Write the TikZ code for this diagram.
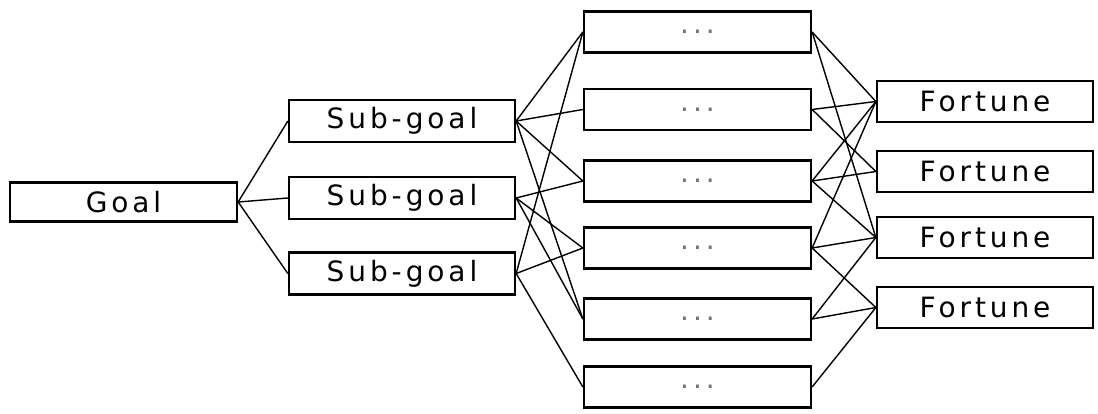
\documentclass[tikz,border=0pt]{standalone}
\usepackage{fontspec}
\setmainfont{DejaVu Sans}[LetterSpace=14]
\begin{document}
\begin{tikzpicture}[x=0.025cm,y=-0.025cm,
        box/.style={draw,line width=1.6pt,inner sep=0pt,minimum height=1.025cm,font=\fontsize{19.9}{24}\selectfont},
        goalbox/.style={box,minimum width=5.675cm,minimum height=0.975cm},
        subbox/.style={box,minimum width=5.65cm,minimum height=1.05cm},
        dotbox/.style={box,minimum width=5.675cm,text=black!55},
        fortbox/.style={box,minimum width=5.4cm},
        link/.style={line width=1pt}]
        \useasboundingbox (0,0) rectangle (1098,414);
        % Cajas
        \node[goalbox] (goal) at (123.5,202) {Goal};
        \node[subbox] (sg1) at (402,121) {Sub-goal};
        \node[subbox] (sg2) at (402,198) {Sub-goal};
        \node[subbox] (sg3) at (402,273.5) {Sub-goal};
        \node[dotbox] (m1) at (697.5,32) {...};
        \node[dotbox] (m2) at (697.5,109.5) {...};
        \node[dotbox] (m3) at (697.5,181) {...};
        \node[dotbox] (m4) at (697.5,248) {...};
        \node[dotbox] (m5) at (697.5,319) {...};
        \node[dotbox] (m6) at (697.5,387) {...};
        \node[fortbox] (f1) at (985,101.5) {Fortune};
        \node[fortbox] (f2) at (985,171.5) {Fortune};
        \node[fortbox] (f3) at (985,237.5) {Fortune};
        \node[fortbox] (f4) at (985,307.5) {Fortune};
        % Conexiones
        \draw[link] (goal.east) -- (sg1.west);
        \draw[link] (goal.east) -- (sg2.west);
        \draw[link] (goal.east) -- (sg3.west);
        \draw[link] (sg1.east) -- (m1.west);
        \draw[link] (sg1.east) -- (m2.west);
        \draw[link] (sg1.east) -- (m3.west);
        \draw[link] (sg1.east) -- (m5.west);
        \draw[link] (sg2.east) -- (m3.west);
        \draw[link] (sg2.east) -- (m4.west);
        \draw[link] (sg2.east) -- (m5.west);
        \draw[link] (sg3.east) -- (m1.west);
        \draw[link] (sg3.east) -- (m4.west);
        \draw[link] (sg3.east) -- (m6.west);
        \draw[link] (m1.east) -- (f1.west);
        \draw[link] (m1.east) -- (f3.west);
        \draw[link] (m2.east) -- (f1.west);
        \draw[link] (m2.east) -- (f2.west);
        \draw[link] (m3.east) -- (f1.west);
        \draw[link] (m3.east) -- (f2.west);
        \draw[link] (m3.east) -- (f3.west);
        \draw[link] (m4.east) -- (f1.west);
        \draw[link] (m4.east) -- (f3.west);
        \draw[link] (m4.east) -- (f4.west);
        \draw[link] (m5.east) -- (f3.west);
        \draw[link] (m5.east) -- (f4.west);
        \draw[link] (m6.east) -- (f4.west);
\end{tikzpicture}
\end{document}
